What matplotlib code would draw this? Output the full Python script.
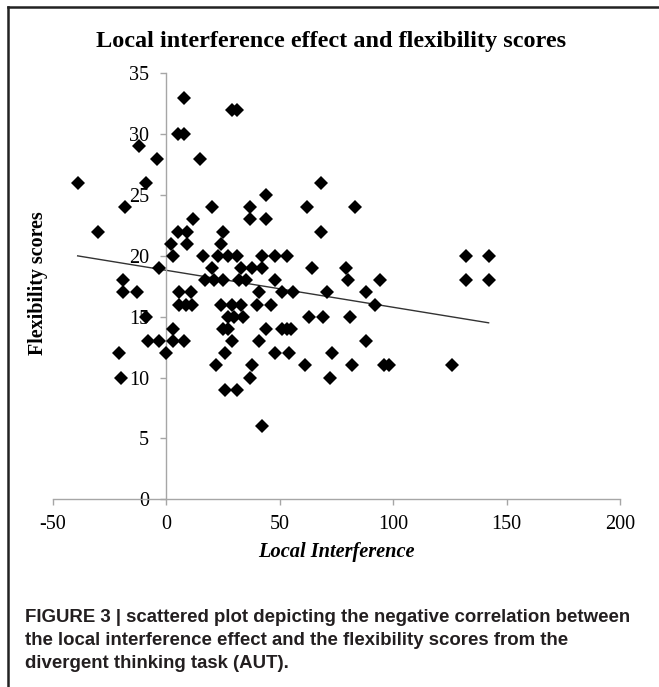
import matplotlib
matplotlib.use("Agg")
import matplotlib.pyplot as plt
from matplotlib.lines import Line2D

# ---- data ----
local_interference = [
    -39, -30, -18, -12, -9, -4, -3, -19, -19, -13, -9, -8, -21, -20,
    8, 5, 8, 29, 31, 15,
    20, 37, 37, 44, 44, 62, 12, 5, 9, 2, 9, 25, 24, 68, 83, 68,
    3, 16, 23, 27, 31, 42, 48, 53, 132, 142,
    20, 33, 38, 42, 64, 79,
    17, 21, 25, 32, 35, 48, 80, 94, 132, 142,
    5.5, 11, 41, 51, 56, 71, 88,
    5.5, 8.5, 11.5, 24, 29, 33, 40, 46, 92,
    27, 30, 34, 63, 69, 81,
    3, 25, 27, 44, 51, 53, 55,
    -3, 3, 8, 29, 41, 88,
    0, 26, 48, 54, 73,
    22, 38, 61, 82, 96, 98, 126,
    37, 72,
    26, 31,
    42,
]
flexibility = [
    26, 22, 24, 29, 26, 28, 19, 18, 17, 17, 15, 13, 12, 10,
    33, 30, 30, 32, 32, 28,
    24, 24, 23, 25, 23, 24, 23, 22, 22, 21, 21, 22, 21, 26, 24, 22,
    20, 20, 20, 20, 20, 20, 20, 20, 20, 20,
    19, 19, 19, 19, 19, 19,
    18, 18, 18, 18, 18, 18, 18, 18, 18, 18,
    17, 17, 17, 17, 17, 17, 17,
    16, 16, 16, 16, 16, 16, 16, 16, 16,
    15, 15, 15, 15, 15, 15,
    14, 14, 14, 14, 14, 14, 14,
    13, 13, 13, 13, 13, 13,
    12, 12, 12, 12, 12,
    11, 11, 11, 11, 11, 11, 11,
    10, 10,
    9, 9,
    6,
]
trend_x = [-39, 142]
trend_y = [20.0, 14.5]

x_ticks = [-50, 0, 50, 100, 150, 200]
y_ticks = [0, 5, 10, 15, 20, 25, 30, 35]

title = "Local interference effect and flexibility scores"
x_label = "Local Interference"
y_label = "Flexibility scores"
caption_lines = [
    "FIGURE 3 | scattered plot depicting the negative correlation between",
    "the local interference effect and the flexibility scores from the",
    "divergent thinking task (AUT).",
]

# ---- figure ----
W, H = 659, 687
fig = plt.figure(figsize=(W / 100, H / 100), dpi=100)
fig.patch.set_facecolor("white")

ax = fig.add_axes([52.7 / W, 1 - 499.3 / H, (620.3 - 52.7) / W, (499.3 - 73.3) / H])
ax.set_xlim(x_ticks[0], x_ticks[-1])
ax.set_ylim(y_ticks[0], y_ticks[-1])

axis_gray = "#a6a6a6"
ax.spines["top"].set_visible(False)
ax.spines["right"].set_visible(False)
ax.spines["left"].set_position(("data", 0))
ax.spines["left"].set_color(axis_gray)
ax.spines["bottom"].set_color(axis_gray)
ax.spines["left"].set_linewidth(1.0)
ax.spines["bottom"].set_linewidth(1.0)

serif = ["Liberation Serif", "DejaVu Serif"]
ax.set_xticks(x_ticks)
ax.set_yticks(y_ticks)
ax.set_xticklabels([str(v) for v in x_ticks], fontfamily=serif, fontsize=14.5)
ax.set_yticklabels([str(v) for v in y_ticks], fontfamily=serif, fontsize=14.5)
ax.tick_params(axis="x", direction="out", length=4, width=1, color=axis_gray, pad=7)
ax.tick_params(axis="y", direction="out", length=4.5, width=1, color=axis_gray, pad=8)

ax.plot(trend_x, trend_y, color="#333333", linewidth=1.0, zorder=2)
ax.plot(local_interference, flexibility, linestyle="none", marker="D",
        markersize=7, color="black", markeredgewidth=0, zorder=3, clip_on=False)

fig.text(331 / W, 1 - 42 / H, title, ha="center", va="center",
         fontfamily=serif, fontweight="bold", fontsize=17.5)
fig.text(336 / W, 1 - 552 / H, x_label, ha="center", va="center",
         fontfamily=serif, fontweight="bold", fontstyle="italic", fontsize=14.7)
fig.text(38 / W, 1 - 283 / H, y_label, ha="center", va="center", rotation=90,
         fontfamily=serif, fontweight="bold", fontsize=14.4)

sans = ["Liberation Sans", "DejaVu Sans"]
for i, line in enumerate(caption_lines):
    fig.text(25 / W, 1 - (622 + 23 * i) / H, line, ha="left", va="baseline",
             fontfamily=sans, fontweight="bold", fontsize=13.4, color="#231f20")

# frame lines (left and top)
fig.add_artist(Line2D([7.5 / W, 7.5 / W], [0, 1 - 7 / H], transform=fig.transFigure,
                      color="#222222", linewidth=1.8))
fig.add_artist(Line2D([7.5 / W, 1], [1 - 7 / H, 1 - 7 / H], transform=fig.transFigure,
                      color="#222222", linewidth=1.8))

fig.savefig("out.png", dpi=100)
